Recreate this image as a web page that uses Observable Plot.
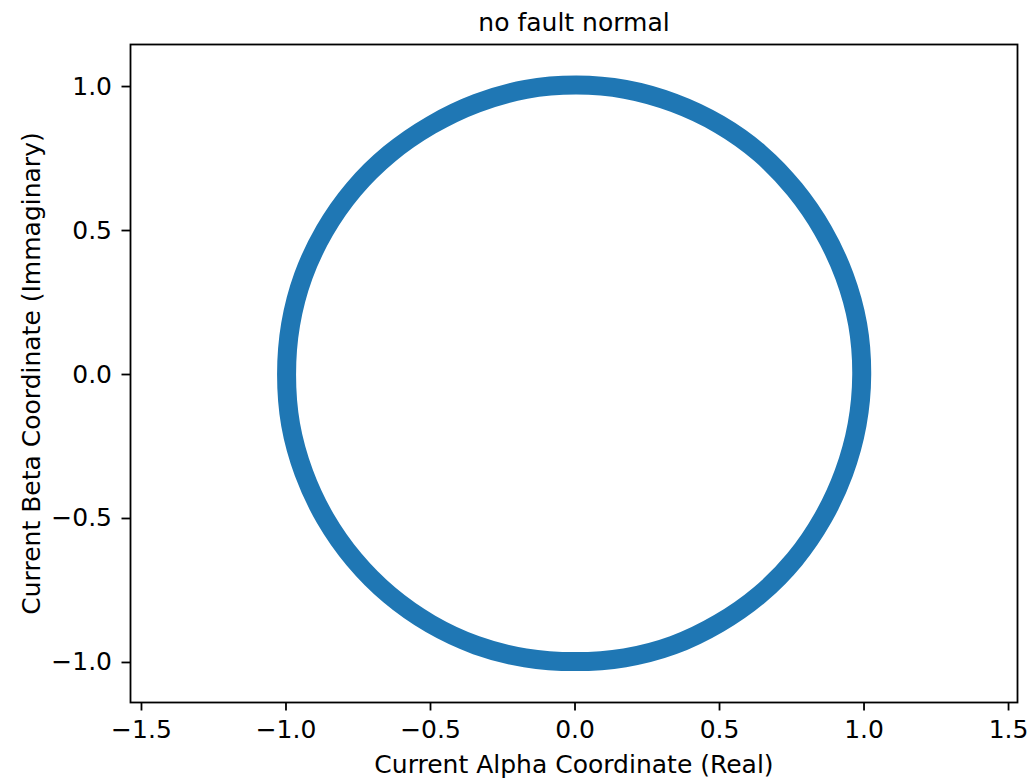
<!DOCTYPE html>
<html>
<head>
<meta charset="utf-8">
<script src="https://cdn.jsdelivr.net/npm/d3@7"></script>
<script src="https://cdn.jsdelivr.net/npm/@observablehq/plot@0.6"></script>
<style>
  html, body { margin: 0; padding: 0; background: white; }
</style>
</head>
<body>
<div id="chart"></div>
<script>
// Points read along the centre of the sampled ring (alpha = real, beta = imaginary)
const alpha = [0.992, 0.978, 0.932, 0.858, 0.760, 0.640, 0.500, 0.342, 0.174, 0.005, -0.170, -0.340, -0.498, -0.642, -0.766, -0.866, -0.940, -0.984, -0.998, -0.984, -0.938, -0.864, -0.764, -0.642, -0.500, -0.342, -0.172, 0.000, 0.172, 0.340, 0.498, 0.640, 0.760, 0.858, 0.930, 0.976];
const beta  = [0.000, 0.174, 0.342, 0.500, 0.643, 0.768, 0.868, 0.943, 0.990, 1.005, 0.990, 0.942, 0.866, 0.766, 0.643, 0.500, 0.342, 0.174, 0.000, -0.174, -0.342, -0.500, -0.643, -0.766, -0.866, -0.940, -0.984, -0.997, -0.984, -0.940, -0.864, -0.764, -0.642, -0.498, -0.342, -0.174];
const xTicks = [-1.5, -1.0, -0.5, 0.0, 0.5, 1.0, 1.5];
const yTicks = [-1.0, -0.5, 0.0, 0.5, 1.0];
const title = "no fault normal";
const xLabel = "Current Alpha Coordinate (Real)";
const yLabel = "Current Beta Coordinate (Immaginary)";

const points = alpha.map((a, i) => ({alpha: a, beta: beta[i]}));
const fmt = d3.format(".1f");
const FS = 25;

const chart = Plot.plot({
  width: 1030,
  height: 780,
  marginLeft: 130,
  marginRight: 13,
  marginTop: 44,
  marginBottom: 78,
  style: {fontFamily: "DejaVu Sans, sans-serif", fontSize: FS + "px", background: "white", color: "#000"},
  x: {domain: [-1.538, 1.531]},
  y: {domain: [-1.139, 1.146]},
  marks: [
    Plot.line(points, {x: "alpha", y: "beta", curve: "catmull-rom-closed", stroke: "#1f77b4", strokeWidth: 19, strokeLinejoin: "round"}),
    Plot.frame({stroke: "#000", strokeWidth: 1.8}),
    Plot.axisX({ticks: xTicks, tickFormat: fmt, tickSize: 8.5, tickPadding: 9, strokeWidth: 1.8, fontSize: FS, label: null, fill: "#000"}),
    Plot.axisY({ticks: yTicks, tickFormat: fmt, tickSize: 8.5, tickPadding: 10, strokeWidth: 1.8, fontSize: FS, label: null, fill: "#000"}),
    Plot.text([title], {frameAnchor: "top", dy: -22, lineAnchor: "middle", fontSize: FS, fill: "#000"}),
    Plot.text([xLabel], {frameAnchor: "bottom", dy: 62, lineAnchor: "middle", fontSize: FS, fill: "#000"}),
    Plot.text([yLabel], {frameAnchor: "left", dx: -99, rotate: -90, textAnchor: "middle", lineAnchor: "middle", fontSize: FS, fill: "#000"})
  ]
});
document.getElementById("chart").appendChild(chart);
</script>
</body>
</html>
